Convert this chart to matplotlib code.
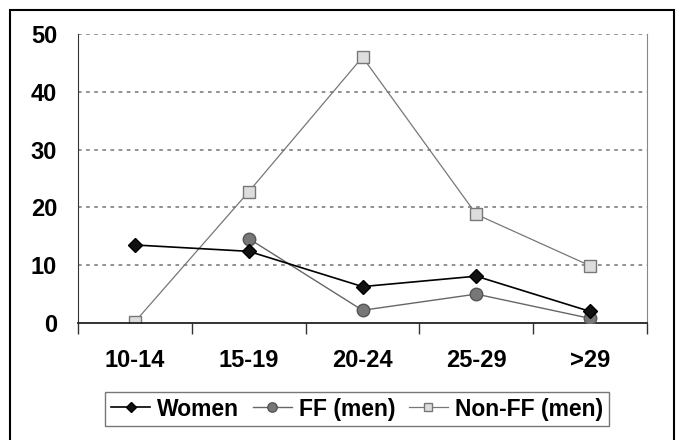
import matplotlib
matplotlib.use("Agg")
import matplotlib.pyplot as plt
from matplotlib.patches import Rectangle

categories = ["10-14", "15-19", "20-24", "25-29", ">29"]
women = [13.5, 12.4, 6.3, 8.1, 2.0]
ff_men = [None, 14.6, 2.2, 5.0, 0.8]
nonff_men = [0.2, 22.7, 46.0, 18.8, 9.9]
yticks = [0, 10, 20, 30, 40, 50]

plt.rcParams['font.family'] = ['Liberation Sans', 'DejaVu Sans']

fig = plt.figure(figsize=(6.85, 4.4), dpi=100)
ax = fig.add_axes([78/685, 1-323/440, (647-78)/685, (323-34)/440])

x = list(range(len(categories)))
ax.plot(x, women, color='black', lw=1.2, marker='D', ms=7, mfc='#111111', mec='black', label='Women', zorder=4)
fx = [i for i, v in zip(x, ff_men) if v is not None]
fv = [v for v in ff_men if v is not None]
ax.plot(fx, fv, color='#666666', lw=1.0, marker='o', ms=9, mfc='#777777', mec='#555555', label='FF (men)', zorder=3)
ax.plot(x, nonff_men, color='#777777', lw=0.9, marker='s', ms=8, mfc='#dddddd', mec='#777777', label='Non-FF (men)', zorder=2)

ax.set_xlim(-0.5, len(categories) - 0.5)
ax.set_ylim(0, 50)
ax.set_yticks(yticks)
ax.set_yticklabels([str(v) for v in yticks], fontsize=17, fontweight='bold')
ax.set_xticks([i - 0.5 for i in range(len(categories) + 1)])
ax.set_xticklabels([])
ax.set_xticks(x, minor=True)
ax.set_xticklabels(categories, minor=True, fontsize=17, fontweight='bold')
ax.tick_params(axis='x', which='major', length=8, width=1, direction='out', color='#333333')
ax.tick_params(axis='x', which='minor', length=0, pad=19)
ax.tick_params(axis='y', length=0, pad=15)

for y in yticks[1:]:
    ax.axhline(y, color='#888888', lw=1.3, ls=(0, (2, 2.5)), zorder=1)

ax.spines['top'].set_visible(False)
ax.spines['right'].set_color('#888888')
ax.spines['left'].set_color('#333333')
ax.spines['bottom'].set_color('#222222')
ax.spines['bottom'].set_linewidth(1.3)

leg = fig.legend(loc='center', bbox_to_anchor=(357/685, 1-409/440), ncol=3, frameon=True,
                 fancybox=False, edgecolor='#555555', handlelength=1.7,
                 handletextpad=0.3, columnspacing=0.6, borderpad=0.25, markerscale=0.75,
                 prop={'weight': 'bold', 'size': 16.5})
leg.get_frame().set_linewidth(1.0)

fig.patches.append(Rectangle((10/685, -0.05), (674-10)/685, 1.05 - 10/440, transform=fig.transFigure,
                             fill=False, edgecolor='black', lw=1.5))

fig.savefig('out.png', dpi=100)
